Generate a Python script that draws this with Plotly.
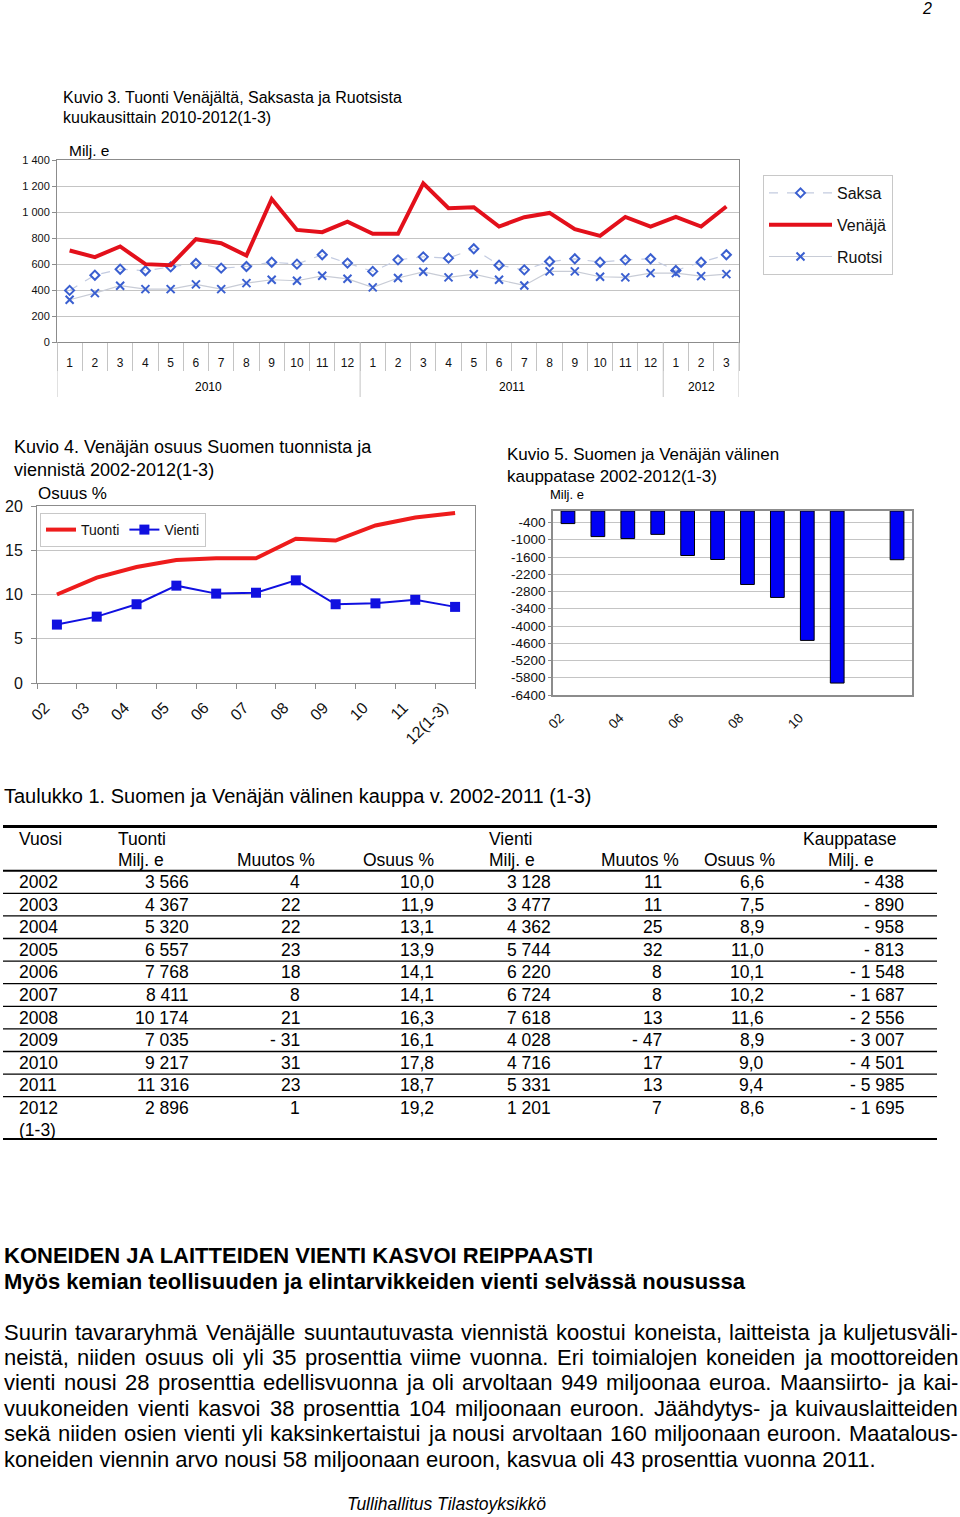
import plotly.graph_objects as go

FONT = "Liberation Sans, Arial, sans-serif"
W, H = 960, 1517

# ---------------- data: Kuvio 3 ----------------
month_labels = ["1", "2", "3", "4", "5", "6", "7", "8", "9", "10", "11", "12",
                "1", "2", "3", "4", "5", "6", "7", "8", "9", "10", "11", "12",
                "1", "2", "3"]
year_labels = ["2010"] * 12 + ["2011"] * 12 + ["2012"] * 3
saksa = [397, 514, 560, 548, 578, 604, 568, 581, 614, 599, 671, 607,
         543, 632, 655, 645, 717, 591, 555, 619, 640, 614, 632, 640,
         550, 614, 671]
venaja = [704, 653, 735, 599, 591, 791, 760, 665, 1100, 862, 845, 926,
          832, 832, 1221, 1029, 1037, 888, 960, 993, 868, 816, 962, 888,
          962, 888, 1042]
ruotsi = [325, 376, 433, 407, 407, 443, 407, 453, 479, 471, 509, 486,
          420, 492, 540, 497, 522, 479, 435, 543, 543, 502, 497, 530,
          530, 507, 522]
k3_yticks = [0, 200, 400, 600, 800, 1000, 1200, 1400]
k3_yticktext = ["0", "200", "400", "600", "800", "1 000", "1 200", "1 400"]

# ---------------- data: Kuvio 4 ----------------
k4_years = ["02", "03", "04", "05", "06", "07", "08", "09", "10", "11", "12(1-3)"]
tuonti_share = [10.0, 11.9, 13.1, 13.9, 14.1, 14.1, 16.3, 16.1, 17.8, 18.7, 19.2]
vienti_share = [6.6, 7.5, 8.9, 11.0, 10.1, 10.2, 11.6, 8.9, 9.0, 9.4, 8.6]

# ---------------- data: Kuvio 5 ----------------
k5_cats = ["02", "03", "04", "05", "06", "07", "08", "09", "10", "11", " ", "12"]
k5_balance = [-438, -890, -958, -813, -1548, -1687, -2556, -3007, -4501, -5985, None, -1695]
k5_ticklabels = ["02", "04", "06", "08", "10"]
k5_yticks = [-400, -1000, -1600, -2200, -2800, -3400, -4000, -4600, -5200, -5800, -6400]

# ---------------- data: Taulukko 1 ----------------
tbl_years = ["2002", "2003", "2004", "2005", "2006", "2007", "2008", "2009", "2010", "2011", "2012"]
tuonti_milj = ["3 566", "4 367", "5 320", "6 557", "7 768", "8 411", "10 174", "7 035", "9 217", "11 316", "2 896"]
tuonti_muutos = ["4", "22", "22", "23", "18", "8", "21", "- 31", "31", "23", "1"]
tuonti_osuus = ["10,0", "11,9", "13,1", "13,9", "14,1", "14,1", "16,3", "16,1", "17,8", "18,7", "19,2"]
vienti_milj = ["3 128", "3 477", "4 362", "5 744", "6 220", "6 724", "7 618", "4 028", "4 716", "5 331", "1 201"]
vienti_muutos = ["11", "11", "25", "32", "8", "8", "13", "- 47", "17", "13", "7"]
vienti_osuus = ["6,6", "7,5", "8,9", "11,0", "10,1", "10,2", "11,6", "8,9", "9,0", "9,4", "8,6"]
kauppatase = ["- 438", "- 890", "- 958", "- 813", "- 1 548", "- 1 687", "- 2 556", "- 3 007",
              "- 4 501", "- 5 985", "- 1 695"]

# ---------------- page text ----------------
heading1 = "KONEIDEN JA LAITTEIDEN VIENTI KASVOI REIPPAASTI"
heading2 = "Myös kemian teollisuuden ja elintarvikkeiden vienti selvässä nousussa"
para_lines = [
    "Suurin tavararyhmä Venäjälle suuntautuvasta viennistä koostui koneista, laitteista ja kuljetusväli-",
    "neistä, niiden osuus oli yli 35 prosenttia viime vuonna. Eri toimialojen koneiden ja moottoreiden",
    "vienti nousi 28 prosenttia edellisvuonna ja oli arvoltaan 949 miljoonaa euroa. Maansiirto- ja kai-",
    "vuukoneiden vienti kasvoi 38 prosenttia 104 miljoonaan euroon. Jäähdytys- ja kuivauslaitteiden",
    "sekä niiden osien vienti yli kaksinkertaistui ja nousi arvoltaan 160 miljoonaan euroon. Maatalous-",
    "koneiden viennin arvo nousi 58 miljoonaan euroon, kasvua oli 43 prosenttia vuonna 2011.",
]


def px_x(p):
    return p / W


def px_y(p):
    return 1 - p / H


fig = go.Figure()

k3_x = list(range(len(month_labels)))

# ---------- Kuvio 3 ----------
fig.add_trace(go.Scatter(
    x=k3_x, y=saksa, name="Saksa", mode="lines+markers",
    line=dict(color="#c3cbe0", width=1.2, dash="dash"),
    marker=dict(symbol="diamond-open", size=7, color="#3a5fd0", line=dict(width=2, color="#3a5fd0")),
    xaxis="x", yaxis="y", legend="legend", legendgroup="s"))
fig.add_trace(go.Scatter(
    x=k3_x, y=venaja, name="Venäjä", mode="lines",
    line=dict(color="#e3101b", width=4),
    xaxis="x", yaxis="y", legend="legend", legendgroup="v"))
fig.add_trace(go.Scatter(
    x=k3_x, y=ruotsi, name="Ruotsi", mode="lines+markers",
    line=dict(color="#c8ccd6", width=1.2),
    marker=dict(symbol="x-thin-open", size=8, color="#3a5fd0", line=dict(width=2, color="#3a5fd0")),
    xaxis="x", yaxis="y", legend="legend", legendgroup="r"))

# ---------- Kuvio 4 ----------
fig.add_trace(go.Scatter(
    x=k4_years, y=tuonti_share, name="Tuonti", mode="lines",
    line=dict(color="#ee1c1c", width=4), xaxis="x2", yaxis="y2", legend="legend2"))
fig.add_trace(go.Scatter(
    x=k4_years, y=vienti_share, name="Vienti", mode="lines+markers",
    line=dict(color="#1010e0", width=2),
    marker=dict(symbol="square", size=10, color="#1010e0"),
    xaxis="x2", yaxis="y2", legend="legend2"))

# ---------- Kuvio 5 ----------
fig.add_trace(go.Bar(
    x=k5_cats, y=k5_balance, marker=dict(color="#0000f5", line=dict(color="#000000", width=1)),
    xaxis="x3", yaxis="y3", showlegend=False))

# overlay (page) axis used for all page text
fig.add_trace(go.Scatter(x=[None], y=[None], xaxis="x4", yaxis="y4", showlegend=False,
                         hoverinfo="skip"))

GRID = "#c4c4c4"
FRAME = "#8c8c8c"
SEP = "#c4c4c4"

fig.update_layout(
    width=W, height=H, margin=dict(l=0, r=0, t=0, b=0, autoexpand=False),
    paper_bgcolor="white", plot_bgcolor="rgba(0,0,0,0)",
    font=dict(family=FONT, color="#000"),
    bargap=0.54,
    # Kuvio 3
    xaxis=dict(domain=[px_x(57), px_x(739)], anchor="y", range=[-0.5, len(k3_x) - 0.5],
               tickvals=k3_x, ticktext=month_labels, ticks="",
               minor=dict(tickvals=[i - 0.5 for i in range(len(k3_x) + 1)], ticks="outside",
                          ticklen=28, tickcolor=SEP, tickwidth=1, showgrid=False),
               showline=True, linecolor=FRAME, linewidth=1, mirror=True,
               ticklabelstandoff=10, automargin=False,
               tickfont=dict(size=12, color="#111"), showgrid=False, zeroline=False),
    yaxis=dict(domain=[px_y(342), px_y(160)], anchor="x", range=[0, 1400],
               tickvals=k3_yticks, ticktext=k3_yticktext, tickfont=dict(size=11, color="#111"),
               showgrid=True, gridcolor=GRID, gridwidth=1, automargin=False,
               showline=True, linecolor=FRAME, mirror=True,
               ticks="outside", ticklen=4, tickcolor=FRAME, zeroline=False),
    # Kuvio 4
    xaxis2=dict(domain=[px_x(37), px_x(475)], anchor="y2", type="category",
                range=[-0.5, len(k4_years) - 0.5],
                showline=True, linecolor=FRAME, mirror=True, automargin=False,
                ticks="outside", tickson="boundaries", ticklen=5, tickcolor=FRAME,
                tickangle=-45, tickfont=dict(size=16, color="#111"), ticklabelstandoff=8,
                ticklabelshift=-12, showgrid=False),
    yaxis2=dict(domain=[px_y(683), px_y(506)], anchor="x2", range=[0, 20],
                tickvals=[0, 5, 10, 15, 20], tickfont=dict(size=16, color="#111"),
                showgrid=True, gridcolor=GRID, showline=True, linecolor=FRAME, mirror=True,
                automargin=False,
                ticks="outside", ticklen=5, tickcolor=FRAME, ticklabelstandoff=5, zeroline=False),
    # Kuvio 5
    xaxis3=dict(domain=[px_x(553), px_x(912)], anchor="y3", type="category",
                categoryorder="array", categoryarray=k5_cats,
                tickvals=k5_ticklabels, ticktext=k5_ticklabels, automargin=False,
                showline=True, linecolor=FRAME, mirror=True, linewidth=1.5,
                tickangle=-45, tickfont=dict(size=13.5, color="#111"), ticklabelstandoff=8,
                ticklabelshift=-8, showgrid=False),
    yaxis3=dict(domain=[px_y(695), px_y(511)], anchor="x3", range=[-6400, 0],
                tickvals=k5_yticks, ticktext=[str(v) for v in k5_yticks],
                tickfont=dict(size=13.5, color="#111"), automargin=False,
                showgrid=True, gridcolor=GRID, showline=True, linecolor=FRAME, mirror=True,
                linewidth=1.5, ticks="outside", ticklen=3, tickcolor=FRAME, zeroline=False),
    # page overlay
    xaxis4=dict(domain=[0, 1], anchor="y4", range=[0, W], visible=False, fixedrange=True,
                automargin=False),
    yaxis4=dict(domain=[0, 1], anchor="x4", range=[H, 0], visible=False, fixedrange=True,
                automargin=False),
    legend=dict(x=px_x(763), y=px_y(175), xanchor="left", yanchor="top",
                bgcolor="white", bordercolor="#c8c8c8", borderwidth=1,
                font=dict(size=16, color="#111"), traceorder="grouped", tracegroupgap=8,
                itemwidth=63),
    legend2=dict(x=px_x(40), y=px_y(513), xanchor="left", yanchor="top", orientation="h",
                 bgcolor="white", bordercolor="#c8c8c8", borderwidth=1,
                 font=dict(size=14, color="#111")),
    showlegend=True,
)

ann = []
shapes = []


def txt(x, y, s, size, xanchor="left", bold=False, italic=False, xref="x4"):
    ann.append(dict(x=x, y=y, xref=xref, yref="y4", text=s, showarrow=False,
                    xanchor=xanchor, yanchor="middle", borderpad=0,
                    font=dict(family=FONT, size=size, color="#000",
                              weight="bold" if bold else "normal",
                              style="italic" if italic else "normal")))


# Kuvio 3: year group labels and dividers derived from year_labels
groups = []
for i, yl in enumerate(year_labels):
    if not groups or groups[-1][0] != yl:
        groups.append([yl, i, i])
    else:
        groups[-1][2] = i
for yl, a, b in groups:
    txt((a + b) / 2, 387, yl, 12, "center", xref="x")
    shapes.append(dict(type="line", xref="x", yref="y4", x0=a - 0.5, x1=a - 0.5, y0=342, y1=397,
                       line=dict(color=SEP, width=1)))
shapes.append(dict(type="line", xref="x", yref="y4", x0=groups[-1][2] + 0.5,
                   x1=groups[-1][2] + 0.5, y0=342, y1=397, line=dict(color=SEP, width=1)))

# page number
txt(927, 8, "2", 16, "center", italic=True)

# Kuvio 3 texts
txt(62, 97, "Kuvio 3. Tuonti Venäjältä, Saksasta ja Ruotsista", 16)
txt(62, 117, "kuukausittain 2010-2012(1-3)", 16)
txt(68, 150, "Milj. e", 15.5)

# Kuvio 4 texts
txt(13, 447, "Kuvio 4. Venäjän osuus Suomen tuonnista ja", 18)
txt(13, 470, "viennistä 2002-2012(1-3)", 18)
txt(37, 493, "Osuus %", 17)

# Kuvio 5 texts
txt(506, 454, "Kuvio 5. Suomen ja Venäjän välinen", 17)
txt(506, 476, "kauppatase 2002-2012(1-3)", 17)
txt(549, 494, "Milj. e", 13)

# Table
txt(3, 796, "Taulukko 1. Suomen ja Venäjän välinen kauppa v. 2002-2011 (1-3)", 20)
TS = 17.5
txt(18, 839, "Vuosi", TS)
txt(117, 839, "Tuonti", TS)
txt(488, 839, "Vienti", TS)
txt(802, 839, "Kauppatase", TS)
for xx, s in [(117, "Milj. e"), (236, "Muutos %"), (362, "Osuus %"), (488, "Milj. e"),
              (600, "Muutos %"), (703, "Osuus %"), (827, "Milj. e")]:
    txt(xx, 860, s, TS)

row0, dy = 882, 22.6
cols = [(190, tuonti_milj), (301, tuonti_muutos), (435, tuonti_osuus),
        (552, vienti_milj), (663, vienti_muutos), (765, vienti_osuus), (905, kauppatase)]
for i, yr in enumerate(tbl_years):
    yy = row0 + i * dy
    txt(18, yy, yr, TS)
    for xx, arr in cols:
        txt(xx, yy, arr[i], TS, "right")
txt(18, row0 + 10 * dy + 22, "(1-3)", TS)


def hline(y, w):
    shapes.append(dict(type="line", xref="x4", yref="y4", x0=3, x1=937, y0=y, y1=y,
                       line=dict(color="#000", width=w)))


hline(826.5, 3)
hline(870.7, 2)
for i in range(10):
    hline(870.7 + dy * (i + 1), 1.3)
hline(1139, 2)

# headings
txt(3, 1255, heading1, 22, bold=True)
txt(3, 1281, heading2, 22, bold=True)

# justified paragraph using Arial metrics
AW = {' ': 278, '.': 278, ',': 278, '-': 333, '(': 333, ')': 333, '%': 889,
      'a': 556, 'b': 556, 'c': 500, 'd': 556, 'e': 556, 'f': 278, 'g': 556, 'h': 556,
      'i': 222, 'j': 222, 'k': 500, 'l': 222, 'm': 833, 'n': 556, 'o': 556, 'p': 556,
      'q': 556, 'r': 333, 's': 500, 't': 278, 'u': 556, 'v': 500, 'w': 722, 'x': 500,
      'y': 500, 'z': 500, 'ä': 556, 'ö': 556, 'å': 556,
      'A': 667, 'B': 667, 'C': 722, 'D': 722, 'E': 667, 'F': 611, 'G': 778, 'H': 722,
      'I': 278, 'J': 500, 'K': 667, 'L': 556, 'M': 833, 'N': 722, 'O': 778, 'P': 667,
      'R': 722, 'S': 667, 'T': 611, 'U': 722, 'V': 667}
PS = 22


def wwidth(w):
    return sum(AW.get(c, 556) for c in w) * PS / 1000.0


para_y0, para_dy = 1332, 25.4
for li, line in enumerate(para_lines):
    yy = para_y0 + li * para_dy
    if li == len(para_lines) - 1:
        txt(3, yy, line, PS)
        continue
    words = line.split(" ")
    widths = [wwidth(w) for w in words]
    gap = (957 - 3 - sum(widths)) / (len(words) - 1)
    xx = 3
    for w, wd in zip(words, widths):
        txt(xx, yy, w, PS)
        xx += wd + gap

# footer
txt(446, 1504, "Tullihallitus Tilastoyksikkö", 17.5, "center", italic=True)

fig.update_layout(annotations=ann, shapes=shapes)
fig.write_html("out.html", config={"displayModeBar": False},
               post_script="document.body.style.margin='0px';document.body.style.overflow='hidden';")
